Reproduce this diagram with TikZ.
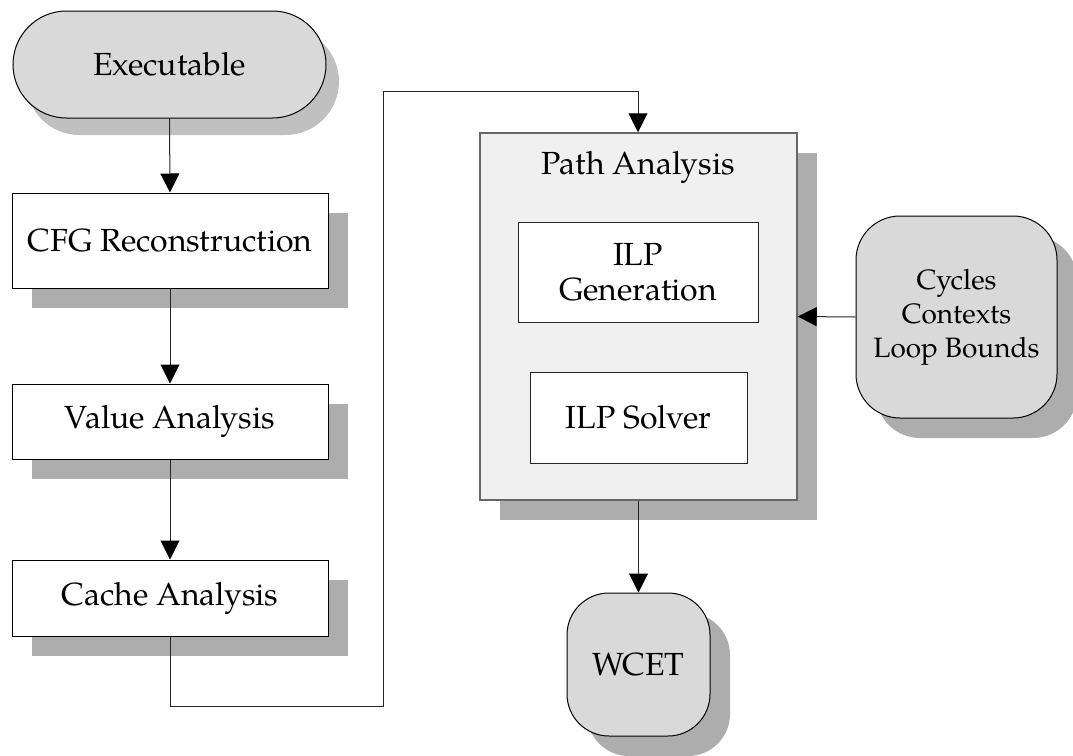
\documentclass[tikz,border=0pt]{standalone}
\usepackage{fontspec}
\setmainfont{TeX Gyre Pagella}
\usetikzlibrary{arrows.meta,shadows}
\definecolor{termfill}{HTML}{D9D9D9}
\definecolor{groupfill}{HTML}{F0F0F0}
\definecolor{shadowgray}{HTML}{ADADAD}
\definecolor{softshadow}{HTML}{C0C0C0}
\definecolor{wire}{HTML}{262626}
\begin{document}
\begin{tikzpicture}[x=1pt,y=-1pt,
  every node/.style={font=\fontsize{32}{35}\selectfont, inner sep=0pt, align=center},
  boxshadow/.style={drop shadow={shadow xshift=20pt, shadow yshift=-20pt, fill=shadowgray, opacity=1}},
  stagebox/.style={rectangle, draw=black, line width=1pt, fill=white,
    minimum width=316pt, boxshadow},
  terminal/.style={rectangle, draw=black, line width=1pt, fill=termfill},
  innerbox/.style={rectangle, draw=black!85, line width=1pt, fill=white},
  conn/.style={draw=wire, line width=1pt, -{Triangle[length=19pt,width=19pt,fill=black,color=black]}}
]
\useasboundingbox (0,0) rectangle (1073,755);

% start terminal
\node[terminal, minimum width=313pt, minimum height=107pt, rounded corners=53.5pt,
  drop shadow={shadow xshift=13pt, shadow yshift=-17pt, fill=softshadow, opacity=1}]
  (exe) at (169.5,64.5) {Executable};

% analysis chain
\node[stagebox, minimum height=95pt] (cfg) at (170,240.5) {CFG Reconstruction};
\node[stagebox, minimum height=75pt] (val) at (170,421.5) {Value Analysis};
\node[stagebox, minimum height=76pt] (cache) at (170,598) {Cache Analysis};

% path analysis group
\node[rectangle, draw=black!60, line width=1.5pt, fill=groupfill,
  minimum width=317pt, minimum height=367pt, boxshadow] (path) at (638.5,316.5) {};
\node (pathtitle) at (638,167) {Path Analysis};
\node[innerbox, minimum width=240pt, minimum height=100pt] (ilpgen) at (638,272) {ILP\\Generation};
\node[innerbox, minimum width=217pt, minimum height=91pt] (ilpsol) at (638.5,417.5) {ILP Solver};

% external inputs and result
\node[terminal, minimum width=201pt, minimum height=202pt, rounded corners=44pt, boxshadow,
  font=\fontsize{28}{34}\selectfont]
  (cyc) at (956.5,317) {Cycles\\Contexts\\Loop Bounds};
\node[terminal, minimum width=143pt, minimum height=143pt, rounded corners=42pt, boxshadow]
  (wcet) at (638.5,664.5) {WCET};

% connectors
\coordinate (c1) at (170,706);
\coordinate (c2) at (383,706);
\coordinate (c3) at (383,91);
\coordinate (c4) at (638,91);
\draw[conn] (exe.south) -- (cfg.north);
\draw[conn] (cfg.south) -- (val.north);
\draw[conn] (val.south) -- (cache.north);
\draw[conn] (cache.south) -- (c1) -- (c2) -- (c3) -- (c4) -- (path.north -| c4);
\draw[conn] (cyc.west) -- (path.east);
\draw[conn] (path.south) -- (wcet.north);
\end{tikzpicture}
\end{document}
